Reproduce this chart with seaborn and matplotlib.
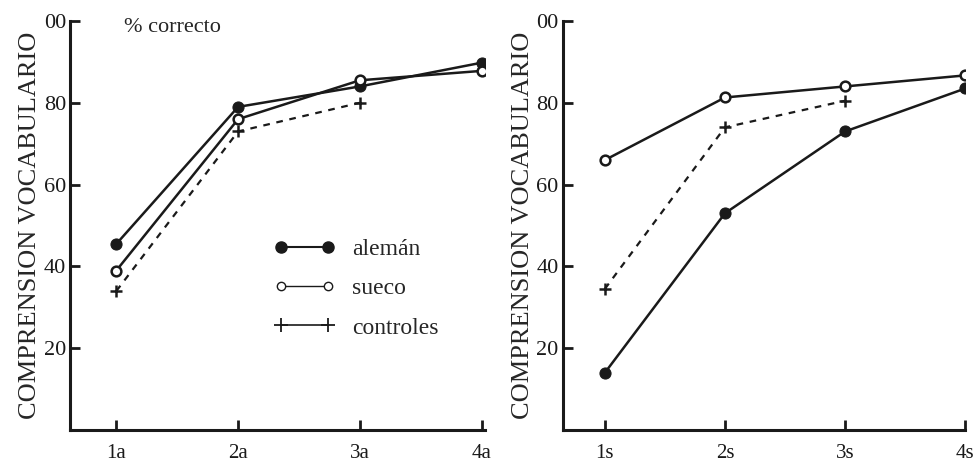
import matplotlib
matplotlib.use("Agg")
import matplotlib.pyplot as plt
import seaborn as sns
import pandas as pd
from matplotlib.lines import Line2D

sns.set_theme(style="white")
plt.rcParams['font.family'] = ['Liberation Serif', 'DejaVu Serif']

# ---- data ----
left_cats = ["1a", "2a", "3a", "4a"]
right_cats = ["1s", "2s", "3s", "4s"]
left_aleman = [45.5, 79, 84, 89.8]
left_sueco = [39, 76, 85.5, 87.8]
left_controles = [34, 73, 80]
right_aleman = [14, 53, 73, 83.5]
right_sueco = [66, 81.3, 84, 86.7]
right_controles = [34.5, 74, 80.5]
y_ticks = [20, 40, 60, 80, 100]
y_ticklabels = ["20", "40", "60", "80", "00"]
ylabel = "COMPRENSION VOCABULARIO"
legend_labels = ["alemán", "sueco", "controles"]

fig = plt.figure(figsize=(9.77, 4.66), dpi=100)
axL = fig.add_axes([0.0717, 0.077, 0.425, 0.878])
axR = fig.add_axes([0.576, 0.077, 0.412, 0.878])

def draw(ax, cats, aleman, sueco, controles, xlim):
    xs = list(range(1, len(cats) + 1))
    sns.lineplot(x=xs[:len(aleman)], y=aleman, ax=ax, color="k", lw=1.8,
                 marker="o", markersize=8, markerfacecolor="k", markeredgecolor="k")
    sns.lineplot(x=xs[:len(sueco)], y=sueco, ax=ax, color="k", lw=1.8,
                 marker="o", markersize=7, markerfacecolor="white",
                 markeredgecolor="k", markeredgewidth=1.8)
    sns.lineplot(x=xs[:len(controles)], y=controles, ax=ax, color="k", lw=1.6,
                 linestyle=(0, (3, 3)), marker="+", markersize=9,
                 markeredgewidth=1.8, markeredgecolor="k")
    ax.set_xlim(*xlim)
    ax.set_ylim(0, 100)
    ax.set_xticks(xs)
    ax.set_xticklabels(cats, fontsize=15)
    ax.set_yticks(y_ticks)
    ax.set_yticklabels(y_ticklabels, fontsize=16)
    ax.set_ylabel(ylabel, fontsize=19, labelpad=2)
    for s in ["top", "right"]:
        ax.spines[s].set_visible(False)
    for s in ["left", "bottom"]:
        ax.spines[s].set_linewidth(2.2)
        ax.spines[s].set_color("k")
    ax.tick_params(axis="both", direction="in", length=7, width=2, colors="k",
                   left=True, bottom=True)
    ax.tick_params(axis="x", pad=10)
    ax.tick_params(axis="y", pad=3)
    ax.set_facecolor("white")
    ax.grid(False)

draw(axL, left_cats, left_aleman, left_sueco, left_controles, (0.62, 4.03))
draw(axR, right_cats, right_aleman, right_sueco, right_controles, (0.65, 4.0))

axL.text(0.13, 0.985, "% correcto", transform=axL.transAxes, fontsize=16,
         ha="left", va="center")

handles = [
    Line2D([], [], color="k", lw=1.5, marker="o", markersize=8, markerfacecolor="k"),
    Line2D([], [], color="k", lw=1.0, marker="o", markersize=6,
           markerfacecolor="white", markeredgewidth=1.0),
    Line2D([], [], color="k", lw=1.2, marker="+", markersize=10, markeredgewidth=1.3),
]
leg = axL.legend(handles, legend_labels, loc="upper left",
                 bbox_to_anchor=(0.44, 0.52), frameon=False, fontsize=17,
                 numpoints=2, handlelength=2.6, labelspacing=0.75, handletextpad=0.7)

fig.savefig("out.png", dpi=100, facecolor="white")
